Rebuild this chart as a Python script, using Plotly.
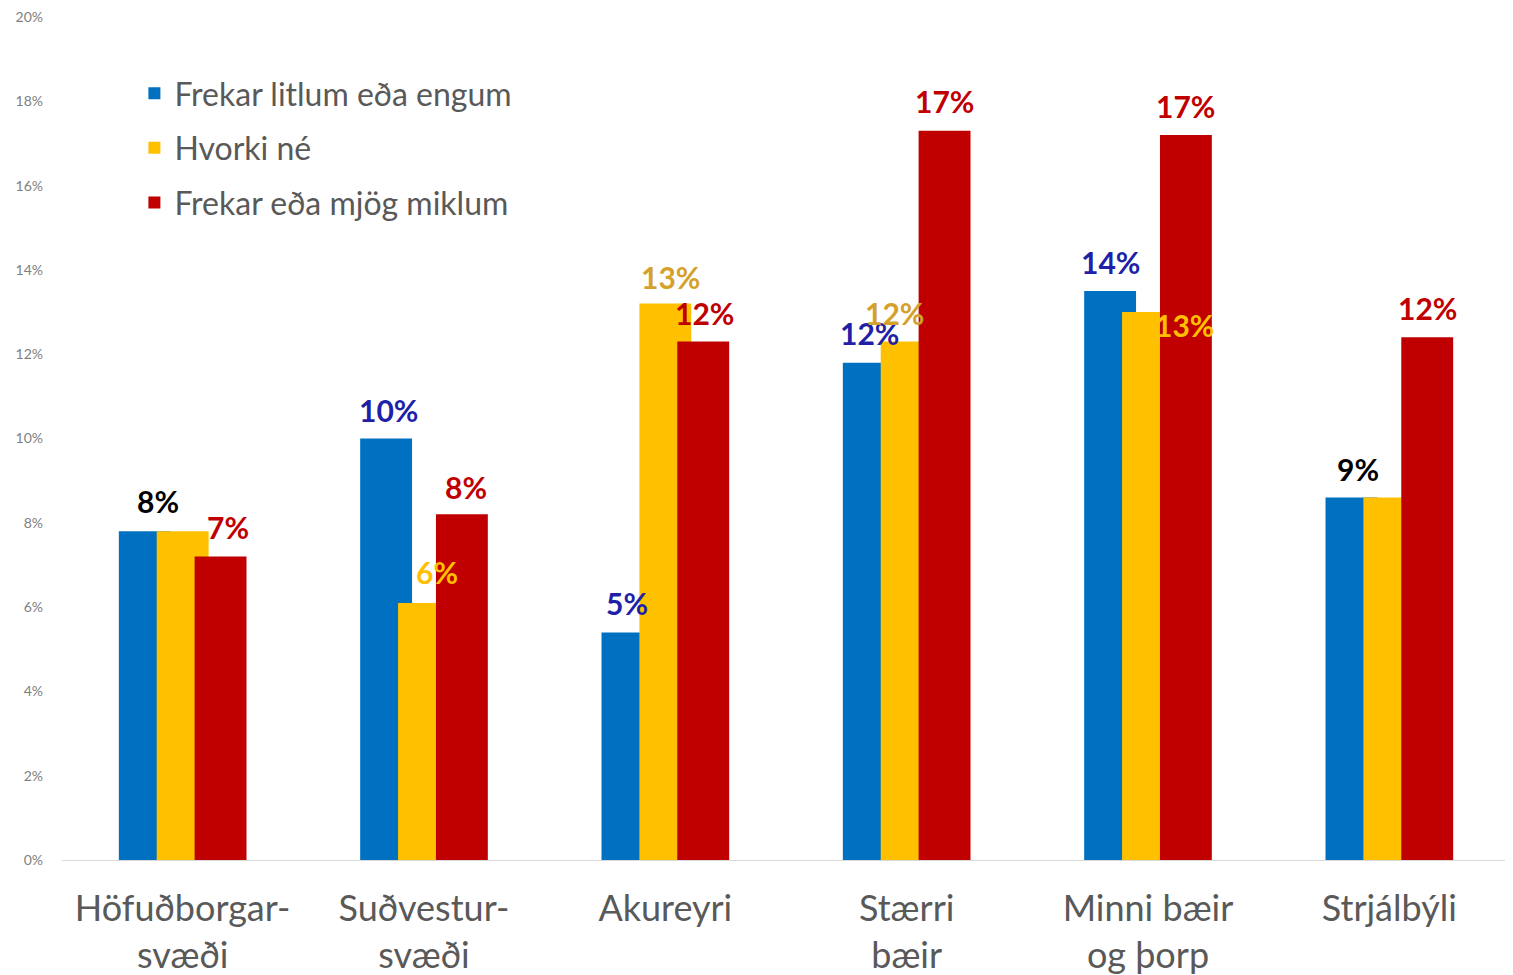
import plotly.graph_objects as go

# data (percent)
categories = ["Höfuðborgar-<br>svæði", "Suðvestur-<br>svæði", "Akureyri",
              "Stærri<br>bæir", "Minni bæir<br>og þorp", "Strjálbýli"]
series_names = ["Frekar litlum eða engum", "Hvorki né", "Frekar eða mjög miklum"]
litlum = [7.8, 10.0, 5.4, 11.8, 13.5, 8.6]
hvorki = [7.8, 6.1, 13.2, 12.3, 13.0, 8.6]
miklum = [7.2, 8.2, 12.3, 17.3, 17.2, 12.4]
y_ticks = [0, 2, 4, 6, 8, 10, 12, 14, 16, 18, 20]

series_values = [litlum, hvorki, miklum]
bar_colors = ["#0070C0", "#FFC000", "#C00000"]

# overlapping bars: each bar is shifted a bit less than its width
BAR_W = 0.215
offsets = [-0.2645, -0.1075, 0.0495]

# value labels: (category, series, colour, xshift, yshift)
BLUE_TXT = "#1F1FA8"
GOLD_TXT = "#D4A12A"
YEL_TXT = "#FFC000"
RED_TXT = "#C00000"
labels = [
    (0, 0, "#000000", 13, 30), (0, 2, RED_TXT, 7, 30),
    (1, 0, BLUE_TXT, 2, 29), (1, 1, YEL_TXT, 13, 31), (1, 2, RED_TXT, 4, 27),
    (2, 0, BLUE_TXT, 0, 29), (2, 1, GOLD_TXT, 5, 27), (2, 2, RED_TXT, 1, 29),
    (3, 0, BLUE_TXT, 1, 30), (3, 1, GOLD_TXT, -12, 29), (3, 2, RED_TXT, 0, 30),
    (4, 0, BLUE_TXT, 0, 29), (4, 1, YEL_TXT, 36, -13), (4, 2, RED_TXT, 0, 29),
    (5, 0, "#000000", 7, 29), (5, 2, RED_TXT, 0, 29),
]

FONT = "Lato"

fig = go.Figure()
for k, (name, vals) in enumerate(zip(series_names, series_values)):
    fig.add_trace(go.Bar(
        x=list(range(len(categories))),
        y=vals,
        name=name,
        width=BAR_W,
        offset=offsets[k],
        marker=dict(color=bar_colors[k], line=dict(width=0)),
        legendgroup=f"g{k}",
        hoverinfo="skip",
    ))

annotations = []
for ci, si, col, dx, dy in labels:
    v = series_values[si][ci]
    annotations.append(dict(
        x=ci + offsets[si] + BAR_W / 2,
        y=v,
        xref="x", yref="y",
        text=f"{v:.0f}%",
        showarrow=False,
        xanchor="center", yanchor="middle",
        xshift=dx, yshift=dy,
        font=dict(family=FONT, size=30, color=col, weight="bold"),
    ))

# the page body adds an 8px margin, so the figure is sized/offset for it
fig.update_layout(
    width=1505, height=967,
    margin=dict(l=54, r=3, t=9, b=115),
    paper_bgcolor="white",
    plot_bgcolor="white",
    barmode="overlay",
    showlegend=True,
    legend=dict(
        x=0.050, y=0.942, xanchor="left", yanchor="top",
        font=dict(family=FONT, size=32, color="#595959"),
        tracegroupgap=10,
        bgcolor="rgba(0,0,0,0)",
    ),
    annotations=annotations,
    xaxis=dict(
        tickmode="array",
        tickvals=list(range(len(categories))),
        ticktext=categories,
        range=[-0.5, len(categories) - 0.5],
        showgrid=False,
        showline=True,
        linecolor="#D9D9D9",
        linewidth=1,
        ticks="",
        ticklabelstandoff=17,
        tickfont=dict(family=FONT, size=36, color="#595959"),
        automargin=False,
        fixedrange=True,
    ),
    yaxis=dict(
        range=[0, 20],
        tickmode="array",
        tickvals=y_ticks,
        ticktext=[f"{t}%" for t in y_ticks],
        showgrid=False,
        zeroline=False,
        showline=False,
        ticks="",
        ticklabelstandoff=18,
        ticklabeloverflow="allow",
        tickfont=dict(family=FONT, size=14, color="#808080"),
        automargin=False,
        fixedrange=True,
    ),
)

fig.write_html("out.html")
